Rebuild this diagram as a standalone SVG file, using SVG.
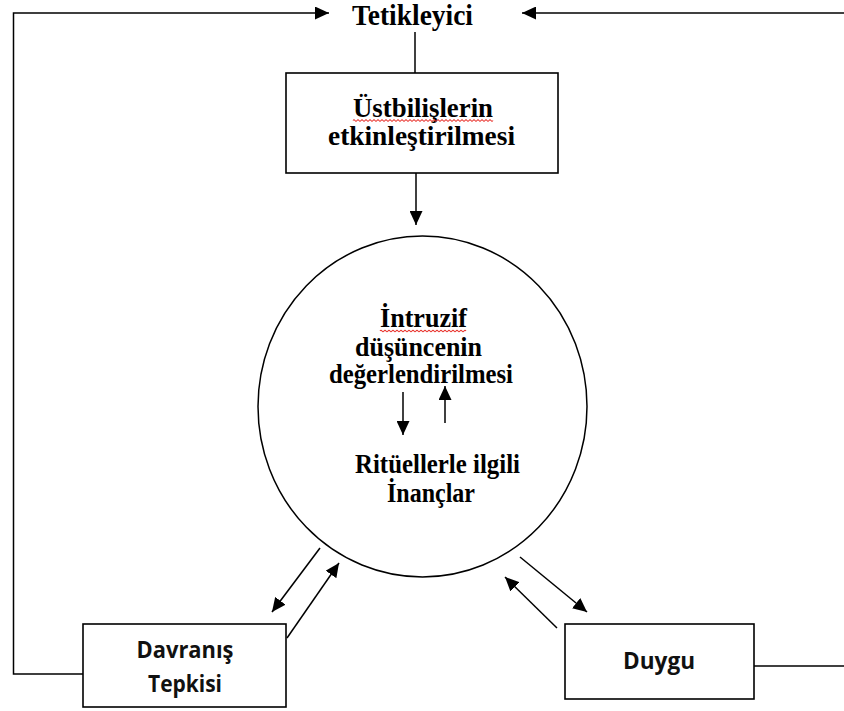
<svg xmlns="http://www.w3.org/2000/svg" width="844" height="711" viewBox="0 0 844 711">
<style>
.ln{stroke:#000;stroke-width:1.5;fill:none}
.box{stroke:#000;stroke-width:1.6;fill:#fff}
.ser{font-family:"Liberation Serif","Times New Roman",serif;font-weight:bold;fill:#000}
.san{font-family:"Open Sans","Liberation Sans",sans-serif;font-weight:bold;fill:#111}
.wavy{stroke:#e8302a;stroke-width:1.1;fill:none}
</style>
<defs>
<marker id="ah" markerUnits="userSpaceOnUse" markerWidth="15" markerHeight="13" refX="14" refY="6.5" orient="auto">
<path d="M0,0 L14,6.5 L0,13 Z" fill="#000"/>
</marker>
</defs>
<rect width="844" height="711" fill="#fff"/>
<g id="connectors">
<polyline class="ln" points="83,674 13.5,674 13.5,13 329,13" marker-end="url(#ah)"/>
<line class="ln" x1="844" y1="13" x2="522" y2="13" marker-end="url(#ah)"/>
<line class="ln" x1="415" y1="32" x2="415" y2="73"/>
<line class="ln" x1="416" y1="173" x2="416" y2="225" marker-end="url(#ah)"/>
<line class="ln" x1="403" y1="392" x2="403" y2="435" marker-end="url(#ah)"/>
<line class="ln" x1="445" y1="423" x2="445" y2="386" marker-end="url(#ah)"/>
<line class="ln" x1="320" y1="548" x2="272" y2="612" marker-end="url(#ah)"/>
<line class="ln" x1="287" y1="638" x2="339" y2="563" marker-end="url(#ah)"/>
<line class="ln" x1="520" y1="557" x2="587" y2="612" marker-end="url(#ah)"/>
<line class="ln" x1="557" y1="628" x2="505" y2="577" marker-end="url(#ah)"/>
<line class="ln" x1="754" y1="666" x2="844" y2="666"/>
</g>
<g id="tetikleyici">
<text class="ser" x="352" y="25" font-size="29" textLength="121" lengthAdjust="spacingAndGlyphs">Tetikleyici</text>
</g>
<g id="ustbilis">
<rect class="box" x="286" y="73" width="272" height="100"/>
<text class="ser" x="353" y="117" font-size="28" textLength="140" lengthAdjust="spacingAndGlyphs">Üstbilişlerin</text>
<path class="wavy" d="M353,120.5 q1,-1.5 2,0 t2,0 t2,0 t2,0 t2,0 t2,0 t2,0 t2,0 t2,0 t2,0 t2,0 t2,0 t2,0 t2,0 t2,0 t2,0 t2,0 t2,0 t2,0 t2,0 t2,0 t2,0 t2,0 t2,0 t2,0 t2,0 t2,0 t2,0 t2,0 t2,0 t2,0 t2,0 t2,0 t2,0 t2,0 t2,0 t2,0 t2,0 t2,0 t2,0 t2,0 t2,0 t2,0 t2,0 t2,0 t2,0 t2,0 t2,0 t2,0 t2,0 t2,0 t2,0 t2,0 t2,0 t2,0 t2,0 t2,0 t2,0 t2,0 t2,0 t2,0 t2,0 t2,0 t2,0 t2,0 t2,0 t2,0 t2,0 t2,0 t2,0"/>
<text class="ser" x="328" y="145" font-size="28" textLength="187" lengthAdjust="spacingAndGlyphs">etkinleştirilmesi</text>
</g>
<g id="circle">
<ellipse cx="422.5" cy="406.5" rx="164.5" ry="170.5" class="ln" stroke-width="1.4"/>
<text class="ser" x="380" y="327" font-size="27" textLength="87" lengthAdjust="spacingAndGlyphs">İntruzif</text>
<path class="wavy" d="M380,331 q1,-1.5 2,0 t2,0 t2,0 t2,0 t2,0 t2,0 t2,0 t2,0 t2,0 t2,0 t2,0 t2,0 t2,0 t2,0 t2,0 t2,0 t2,0 t2,0 t2,0 t2,0 t2,0 t2,0 t2,0 t2,0 t2,0 t2,0 t2,0 t2,0 t2,0 t2,0 t2,0 t2,0 t2,0 t2,0 t2,0 t2,0 t2,0 t2,0 t2,0 t2,0 t2,0 t2,0 t2,0"/>
<text class="ser" x="355" y="356" font-size="27" textLength="127" lengthAdjust="spacingAndGlyphs">düşüncenin</text>
<text class="ser" x="329" y="383" font-size="27" textLength="184" lengthAdjust="spacingAndGlyphs">değerlendirilmesi</text>
<text class="ser" x="355" y="473" font-size="27" textLength="165" lengthAdjust="spacingAndGlyphs">Ritüellerle ilgili</text>
<text class="ser" x="387" y="502" font-size="27" textLength="88" lengthAdjust="spacingAndGlyphs">İnançlar</text>
</g>
<g id="davranis">
<rect class="box" x="83" y="624" width="203" height="83"/>
<text class="san" x="136.5" y="658" font-size="24" textLength="97" lengthAdjust="spacingAndGlyphs">Davranış</text>
<text class="san" x="148" y="692" font-size="24" textLength="74" lengthAdjust="spacingAndGlyphs">Tepkisi</text>
</g>
<g id="duygu">
<rect class="box" x="565" y="624" width="189" height="75"/>
<text class="san" x="623" y="669" font-size="24" textLength="72" lengthAdjust="spacingAndGlyphs">Duygu</text>
</g>
</svg>
